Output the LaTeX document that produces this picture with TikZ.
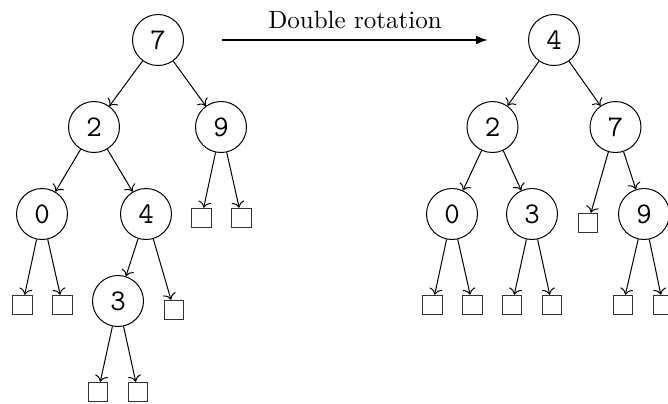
\documentclass[tikz,border=0pt]{standalone}
\usetikzlibrary{arrows.meta}
\begin{document}
\begin{tikzpicture}[x=0.4pt,y=-0.4pt,
  treenode/.style={circle,draw,line width=0.4pt,minimum size=20.4pt,inner sep=0pt,font=\fontsize{12}{14}\selectfont\ttfamily},
  leafbox/.style={rectangle,draw=black!80,line width=0.4pt,minimum size=7.8pt,inner sep=0pt},
  edge/.style={->,line width=0.4pt},
  bigarrow/.style={-{Latex[length=4.8pt,width=3.6pt]},line width=0.8pt}]
\useasboundingbox (0,0) rectangle (668,403);
% left tree
\node[treenode] (a7) at (158,40) {7};
\node[treenode] (a2) at (94,127) {2};
\node[treenode] (a9) at (221,127) {9};
\node[treenode] (a0) at (42,214) {0};
\node[treenode] (a4) at (146,214) {4};
\node[treenode] (a3) at (118,301) {3};
\node[leafbox] (l9a) at (201.5,218) {};
\node[leafbox] (l9b) at (241.5,218) {};
\node[leafbox] (l0a) at (22.5,305) {};
\node[leafbox] (l0b) at (62.5,305) {};
\node[leafbox] (l4b) at (174,310) {};
\node[leafbox] (l3a) at (98,392) {};
\node[leafbox] (l3b) at (138,392) {};
\draw[edge] (a7) -- (a2);
\draw[edge] (a7) -- (a9);
\draw[edge] (a2) -- (a0);
\draw[edge] (a2) -- (a4);
\draw[edge] (a9) -- (l9a);
\draw[edge] (a9) -- (l9b);
\draw[edge] (a0) -- (l0a);
\draw[edge] (a0) -- (l0b);
\draw[edge] (a4) -- (a3);
\draw[edge] (a4) -- (l4b);
\draw[edge] (a3) -- (l3a);
\draw[edge] (a3) -- (l3b);
% arrow
\coordinate (s) at (222,40);
\coordinate (e) at (488,40);
\draw[bigarrow] (s) -- node[above=0.8pt,font=\rmfamily] (lbl) {Double rotation} (e);
% right tree
\node[treenode] (b4) at (554,40) {4};
\node[treenode] (b2) at (492.5,127) {2};
\node[treenode] (b7) at (615.5,127) {7};
\node[treenode] (b0) at (452,214) {0};
\node[treenode] (b3) at (532,214) {3};
\node[treenode] (b9) at (644,214) {9};
\node[leafbox] (m7a) at (588,223) {};
\node[leafbox] (m0a) at (432.5,305) {};
\node[leafbox] (m0b) at (472.5,305) {};
\node[leafbox] (m3a) at (512,305) {};
\node[leafbox] (m3b) at (552,305) {};
\node[leafbox] (m9a) at (623,305) {};
\node[leafbox] (m9b) at (663,305) {};
\draw[edge] (b4) -- (b2);
\draw[edge] (b4) -- (b7);
\draw[edge] (b2) -- (b0);
\draw[edge] (b2) -- (b3);
\draw[edge] (b7) -- (m7a);
\draw[edge] (b7) -- (b9);
\draw[edge] (b0) -- (m0a);
\draw[edge] (b0) -- (m0b);
\draw[edge] (b3) -- (m3a);
\draw[edge] (b3) -- (m3b);
\draw[edge] (b9) -- (m9a);
\draw[edge] (b9) -- (m9b);
\end{tikzpicture}
\end{document}
